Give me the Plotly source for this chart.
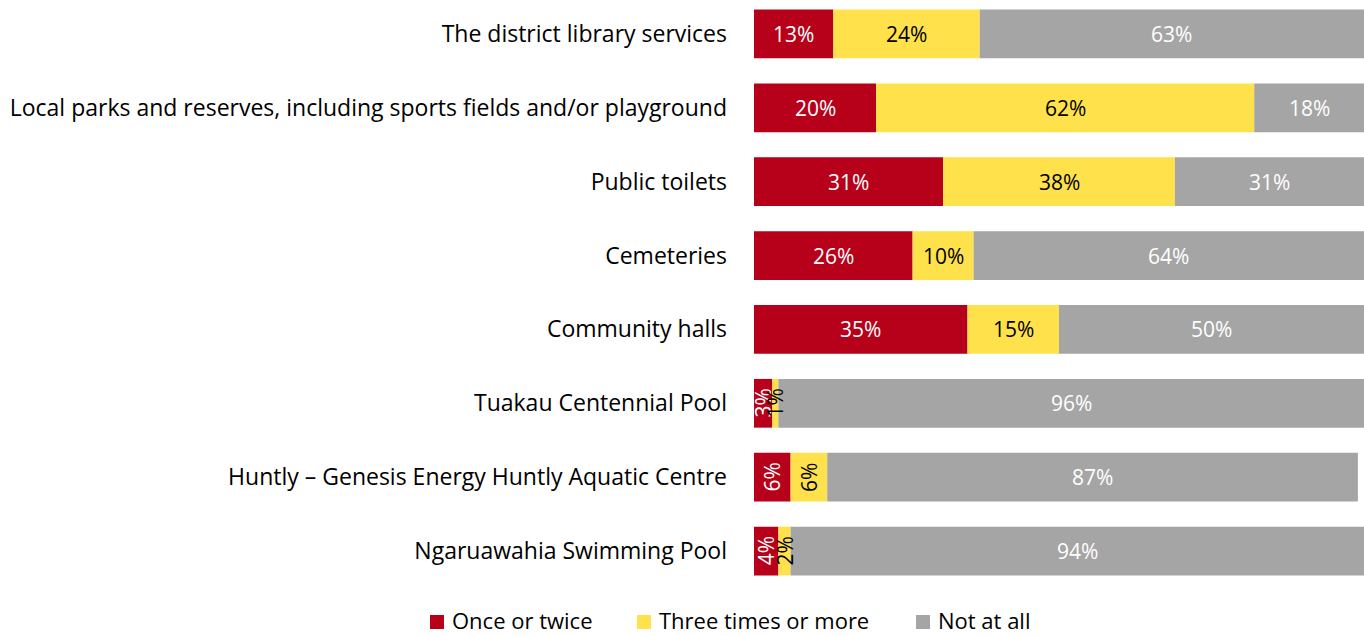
import plotly.graph_objects as go

# Facility usage survey: share of respondents by frequency of use
facilities = [
    "The district library services",
    "Local parks and reserves, including sports fields and/or playground",
    "Public toilets",
    "Cemeteries",
    "Community halls",
    "Tuakau Centennial Pool",
    "Huntly – Genesis Energy Huntly Aquatic Centre",
    "Ngaruawahia Swimming Pool",
]
once_or_twice = [13, 20, 31, 26, 35, 3, 6, 4]
three_or_more = [24, 62, 38, 10, 15, 1, 6, 2]
not_at_all = [63, 18, 31, 64, 50, 96, 87, 94]

series = [
    ("Once or twice", once_or_twice, "#B7011A", "white"),
    ("Three times or more", three_or_more, "#FFE14B", "black"),
    ("Not at all", not_at_all, "#A5A5A5", "white"),
]

FONT = "Open Sans"
W, H = 1364, 636
ML, MB = 754, 46
PW, PH = W - ML, H - MB

fig = go.Figure()
annotations = []
shapes = []
base = [0] * len(facilities)
for name, vals, color, txtcolor in series:
    fig.add_trace(go.Bar(
        y=facilities, x=vals, base=base, name=name, orientation="h",
        marker=dict(color=color, line=dict(width=0)),
        hoverinfo="name+x", showlegend=False,
    ))
    for cat, b, v in zip(facilities, base, vals):
        narrow = v < 8
        annotations.append(dict(
            x=b + v / 2, y=cat, xref="x", yref="y",
            text=f"{v}%", showarrow=False,
            textangle=-90 if narrow else 0,
            font=dict(family=FONT, size=21, color=txtcolor),
        ))
    base = [b + v for b, v in zip(base, vals)]

# Legend row centred under the chart: swatch + label per series (pixel x of swatch)
legend_x = [430, 637, 916]
legend_cy = 620
sw = 14
for (name, _, color, _), px in zip(series, legend_x):
    x0 = (px - ML) / PW
    x1 = (px + sw - ML) / PW
    y0 = (PH - (legend_cy + 2 + sw / 2)) / PH
    y1 = (PH - (legend_cy + 2 - sw / 2)) / PH
    shapes.append(dict(type="rect", xref="paper", yref="paper",
                       x0=x0, x1=x1, y0=y0, y1=y1,
                       fillcolor=color, line=dict(width=0)))
    annotations.append(dict(
        x=(px + sw + 7 - ML) / PW, y=(PH - legend_cy) / PH,
        xref="paper", yref="paper", xanchor="left", yanchor="middle",
        text=name, showarrow=False, borderpad=0,
        font=dict(family=FONT, size=22, color="black"),
    ))

fig.update_layout(
    width=W, height=H,
    margin=dict(l=ML, r=0, t=0, b=MB),
    paper_bgcolor="white", plot_bgcolor="white",
    barmode="overlay", bargap=0.34,
    font=dict(family=FONT, size=23, color="black"),
    annotations=annotations,
    shapes=shapes,
    showlegend=False,
    xaxis=dict(range=[0, 100], visible=False, fixedrange=True),
    yaxis=dict(
        range=[7.528, -0.46], showgrid=False, zeroline=False,
        ticks="", showline=False, ticklabelstandoff=26,
        tickfont=dict(family=FONT, size=23, color="black"),
    ),
)

fig.write_html("out.html")
